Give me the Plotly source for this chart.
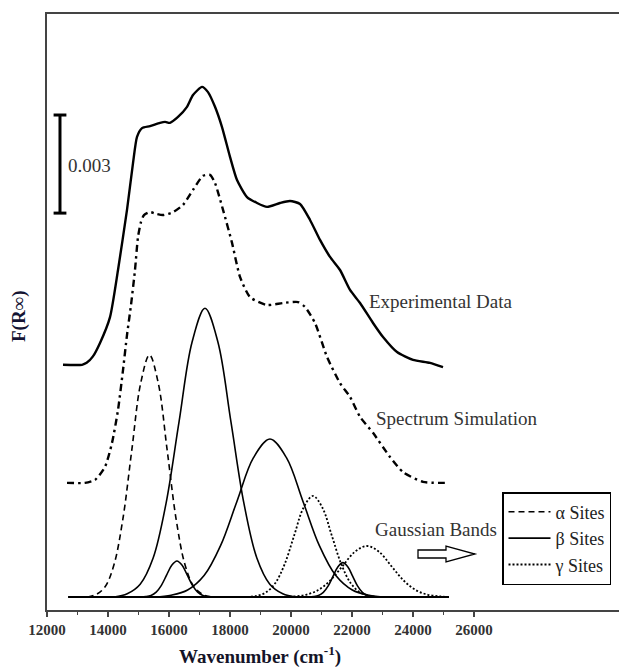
import plotly.graph_objects as go

# ---------------- data ----------------
exp_x = [12525, 13148, 13300, 13500, 13738, 14066, 14328, 14623, 14820, 14951, 15115, 15377,
         15705, 15869, 16033, 16295, 16590, 16787, 17082, 17279, 17508, 17738, 18000, 18230,
         18558, 18886, 19214, 19640, 19968, 20296, 20624, 20951, 21279, 21607, 21935, 22263,
         22689, 23017, 23476, 24000, 24557, 24984]
exp_y = [0.00710, 0.00710, 0.00716, 0.00735, 0.00777, 0.00856, 0.01000, 0.01184, 0.01327,
         0.01407, 0.01434, 0.01440, 0.01450, 0.01453, 0.01450, 0.01468, 0.01499, 0.01535,
         0.01560, 0.01544, 0.01499, 0.01437, 0.01346, 0.01275, 0.01223, 0.01205, 0.01193,
         0.01205, 0.01211, 0.01202, 0.01153, 0.01092, 0.01040, 0.01000, 0.00939, 0.00899,
         0.00838, 0.00795, 0.00749, 0.00725, 0.00716, 0.00703]

sim_x = [12656, 13246, 13574, 13902, 14131, 14328, 14492, 14623, 14754, 14885, 14984, 15082,
         15180, 15377, 15607, 15803, 16131, 16459, 16787, 17115, 17344, 17508, 17771, 18066,
         18328, 18656, 19213, 19738, 20230, 20459, 20787, 21181, 21607, 21935, 22263, 22689,
         23246, 23672, 24328, 25115]
sim_y = [0.00349, 0.00349, 0.00358, 0.00398, 0.00471, 0.00572, 0.00694, 0.00801, 0.00893,
         0.01000, 0.01101, 0.01147, 0.01168, 0.01177, 0.01171, 0.01168, 0.01177, 0.01199,
         0.01245, 0.01288, 0.01291, 0.01266, 0.01184, 0.01083, 0.00979, 0.00917, 0.00893,
         0.00899, 0.00902, 0.00887, 0.00838, 0.00734, 0.00654, 0.00612, 0.00551, 0.00502,
         0.00428, 0.00382, 0.00352, 0.00349]

# Gaussian bands (alpha sites)
alpha1_x = [13330, 13620, 13910, 14200, 14490, 14780, 15070, 15360, 15650, 15940, 16230, 16520, 16810, 17100, 17390]
alpha1_y = [0, 0.00008, 0.00032, 0.00100, 0.00240, 0.00449, 0.00653, 0.00740, 0.00653, 0.00449, 0.00240, 0.00100, 0.00032, 0.00008, 0]

# beta sites
beta1_x = [15070, 15240, 15410, 15580, 15750, 15920, 16090, 16260, 16430, 16600, 16770, 16940, 17110, 17280, 17450]
beta1_y = [0, 0.000012, 0.000048, 0.000149, 0.000357, 0.000667, 0.000971, 0.00110, 0.000971, 0.000667, 0.000357, 0.000149, 0.000048, 0.000012, 0]
beta2_x = [14205, 14630, 15055, 15480, 15905, 16330, 16755, 17180, 17605, 18030, 18455, 18880, 19305, 19730, 20155]
beta2_y = [0, 0.000098, 0.00039, 0.00119, 0.00287, 0.00536, 0.00779, 0.00883, 0.00779, 0.00536, 0.00287, 0.00119, 0.00039, 0.000098, 0]
beta3_x = [15530, 16070, 16610, 17150, 17690, 18230, 18770, 19310, 19850, 20390, 20930, 21470, 22010, 22550, 23090]
beta3_y = [0, 0.000054, 0.000212, 0.000654, 0.00157, 0.00293, 0.00426, 0.00483, 0.00426, 0.00293, 0.00157, 0.000654, 0.000212, 0.000054, 0]
beta4_x = [20580, 20740, 20900, 21060, 21220, 21380, 21540, 21700, 21860, 22020, 22180, 22340, 22500, 22660, 22820]
beta4_y = [0, 0.000012, 0.000046, 0.000142, 0.000341, 0.000637, 0.000927, 0.00105, 0.000927, 0.000637, 0.000341, 0.000142, 0.000046, 0.000012, 0]

# gamma sites
gamma1_x = [18550, 18860, 19170, 19480, 19790, 20100, 20410, 20720, 21030, 21340, 21650, 21960, 22270, 22580, 22890]
gamma1_y = [0, 0.000034, 0.000136, 0.000418, 0.00100, 0.00187, 0.00273, 0.00309, 0.00273, 0.00187, 0.00100, 0.000418, 0.000136, 0.000034, 0]
gamma2_x = [19690, 20090, 20490, 20890, 21290, 21690, 22090, 22490, 22890, 23290, 23690, 24090, 24490, 24890, 25180]
gamma2_y = [0, 0.000017, 0.000068, 0.000211, 0.000507, 0.000946, 0.00138, 0.00156, 0.00138, 0.000946, 0.000507, 0.000211, 0.000068, 0.000017, 0]

baseline_x = [12690, 25180]
baseline_y = [0, 0]

tick_vals = [12000, 14000, 16000, 18000, 20000, 22000, 24000, 26000]
tick_text = ["12000", "14000", "16000", "18000", "20000", "22000", "24000", "26000"]
minor_vals = [13000, 15000, 17000, 19000, 21000, 23000, 25000]

scale_value = 0.003
scale_bottom = 0.01174
scale_x = 12426

# ---------------- figure ----------------
SERIF = "Liberation Serif, Times New Roman, serif"
OFF = 8                     # default page body margin of the html page
W, H = 627 - OFF, 668 - OFF
ML, MR, MT, MB = 47 - OFF, 0, 14 - OFF, 58
X_RANGE = [12000, 31016]
Y_RANGE = [-0.000398, 0.017829]

fig = go.Figure()

fig.add_trace(go.Scatter(x=baseline_x, y=baseline_y, mode="lines",
                         line=dict(color="black", width=2), showlegend=False, hoverinfo="skip"))

bands = [
    ("α Sites", "alpha", "6px,4px", 1.6, [(alpha1_x, alpha1_y)]),
    ("β Sites", "beta", "solid", 1.6, [(beta1_x, beta1_y), (beta2_x, beta2_y), (beta3_x, beta3_y), (beta4_x, beta4_y)]),
    ("γ Sites", "gamma", "2px,2px", 1.8, [(gamma1_x, gamma1_y), (gamma2_x, gamma2_y)]),
]
for name, grp, dash, w, curves in bands:
    for i, (bx, by) in enumerate(curves):
        fig.add_trace(go.Scatter(x=bx, y=by, mode="lines", name=name, legendgroup=grp,
                                 showlegend=(i == 0),
                                 line=dict(color="black", width=w, dash=dash, shape="spline", smoothing=1)))

fig.add_trace(go.Scatter(x=sim_x, y=sim_y, mode="lines", name="Spectrum Simulation", showlegend=False,
                         line=dict(color="black", width=2.4, dash="7px,4px,2.5px,4px", shape="spline", smoothing=0.6)))
fig.add_trace(go.Scatter(x=exp_x, y=exp_y, mode="lines", name="Experimental Data", showlegend=False,
                         line=dict(color="black", width=2.4, shape="spline", smoothing=0.6)))

# scale bar
cap = 210
fig.add_shape(type="line", x0=scale_x, x1=scale_x, y0=scale_bottom, y1=scale_bottom + scale_value,
              line=dict(color="black", width=3))
for yy in (scale_bottom, scale_bottom + scale_value):
    fig.add_shape(type="line", x0=scale_x - cap, x1=scale_x + cap, y0=yy, y1=yy,
                  line=dict(color="black", width=3))
fig.add_annotation(x=scale_x + 190, y=scale_bottom + scale_value / 2 - 0.00003, text="0.003",
                   showarrow=False, xanchor="left", yanchor="middle",
                   font=dict(family=SERIF, size=19, color="#333"))

# curve labels
for txt, xx, yy in [("Experimental Data", 22493, 0.00905),
                    ("Spectrum Simulation", 22722, 0.00547),
                    ("Gaussian Bands", 22690, 0.00205)]:
    fig.add_annotation(x=xx, y=yy, text=txt, showarrow=False, xanchor="left", yanchor="middle",
                       font=dict(family=SERIF, size=19, color="#333"))

# page-pixel -> paper coordinates (for decorations)
def px(xp):
    return (xp - OFF - ML) / (W - ML - MR)

def py(yp):
    return (H + OFF - MB - yp) / (H - MT - MB)

# hollow arrow
pts = [(418, 550), (446, 550), (446, 546), (475, 554), (446, 562), (446, 558), (418, 558)]
path = "M " + " L ".join(f"{px(a):.5f},{py(b):.5f}" for a, b in pts) + " Z"
fig.add_shape(type="path", path=path, xref="paper", yref="paper",
              line=dict(color="black", width=1.3), fillcolor="white")

# axis titles
fig.add_annotation(x=px(260), y=py(655), xref="paper", yref="paper",
                   text="Wavenumber (cm<sup>-1</sup>)", showarrow=False,
                   xanchor="center", yanchor="middle",
                   font=dict(family=SERIF, size=19, color="#141428", weight="bold"))
fig.add_annotation(x=px(19), y=py(316), xref="paper", yref="paper",
                   text="F(R∞)", showarrow=False, textangle=-90,
                   xanchor="center", yanchor="middle",
                   font=dict(family=SERIF, size=19, color="#141433", weight="bold"))

fig.update_layout(
    width=W, height=H,
    margin=dict(l=ML, r=MR, t=MT, b=MB, autoexpand=False),
    paper_bgcolor="white", plot_bgcolor="white",
    hovermode=False,
    legend=dict(x=px(502), y=py(492), xanchor="left", yanchor="top",
                bgcolor="white", bordercolor="black", borderwidth=1.5,
                font=dict(family=SERIF, size=18, color="#222"),
                traceorder="normal", itemwidth=42, tracegroupgap=0),
    xaxis=dict(range=X_RANGE, showgrid=False, zeroline=False,
               showline=True, linecolor="#444", linewidth=2, mirror=True,
               tickmode="array", tickvals=tick_vals, ticktext=tick_text,
               ticks="outside", ticklen=5, tickwidth=1.5, tickcolor="#444",
               tickfont=dict(family=SERIF, size=15, color="#333", weight="bold"),
               minor=dict(tickmode="array", tickvals=minor_vals, ticks="outside",
                          ticklen=3, tickwidth=1.2, tickcolor="#444")),
    yaxis=dict(range=Y_RANGE, showgrid=False, zeroline=False,
               showline=True, linecolor="#444", linewidth=2, mirror=False,
               showticklabels=False, ticks=""),
)

fig.write_html("out.html")
